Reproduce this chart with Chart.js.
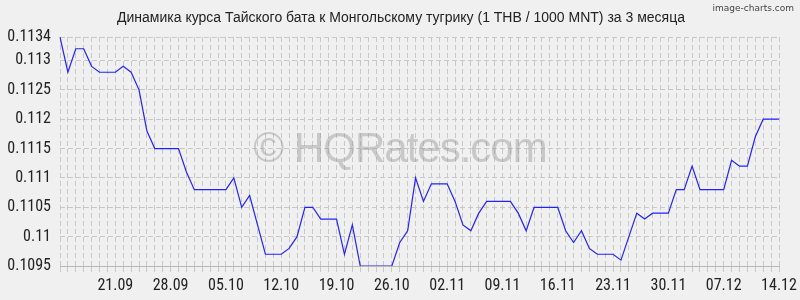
<!DOCTYPE html>
<html>
<head>
<meta charset="utf-8">
<script src="https://cdn.jsdelivr.net/npm/chart.js@4.4.0/dist/chart.umd.min.js"></script>
<style>
  html, body { margin: 0; padding: 0; background: #f0f0f0; }
  canvas { display: block; }
</style>
</head>
<body>
<canvas id="line-chart" width="800" height="300"></canvas>
<script>
// daily dates, 14.09 - 14.12
dates = [
  "14.09","15.09","16.09","17.09","18.09","19.09","20.09","21.09","22.09","23.09",
  "24.09","25.09","26.09","27.09","28.09","29.09","30.09",
  "01.10","02.10","03.10","04.10","05.10","06.10","07.10","08.10","09.10","10.10",
  "11.10","12.10","13.10","14.10","15.10","16.10","17.10","18.10","19.10","20.10",
  "21.10","22.10","23.10","24.10","25.10","26.10","27.10","28.10","29.10","30.10","31.10",
  "01.11","02.11","03.11","04.11","05.11","06.11","07.11","08.11","09.11","10.11",
  "11.11","12.11","13.11","14.11","15.11","16.11","17.11","18.11","19.11","20.11",
  "21.11","22.11","23.11","24.11","25.11","26.11","27.11","28.11","29.11","30.11",
  "01.12","02.12","03.12","04.12","05.12","06.12","07.12","08.12","09.12","10.12",
  "11.12","12.12","13.12","14.12"
];

// THB/MNT rate (1 THB / 1000 MNT)
rates = [
  0.1134, 0.1128, 0.1132, 0.1132, 0.1129, 0.1128, 0.1128, 0.1128, 0.1129, 0.1128,
  0.1125, 0.1118, 0.1115, 0.1115, 0.1115, 0.1115, 0.1111,
  0.1108, 0.1108, 0.1108, 0.1108, 0.1108, 0.1110, 0.1105, 0.1107, 0.1102, 0.1097,
  0.1097, 0.1097, 0.1098, 0.1100, 0.1105, 0.1105, 0.1103, 0.1103, 0.1103, 0.1097,
  0.1102, 0.1095, 0.1095, 0.1095, 0.1095, 0.1095, 0.1099, 0.1101, 0.1110, 0.1106, 0.1109,
  0.1109, 0.1109, 0.1106, 0.1102, 0.1101, 0.1104, 0.1106, 0.1106, 0.1106, 0.1106,
  0.1104, 0.1101, 0.1105, 0.1105, 0.1105, 0.1105, 0.1101, 0.1099, 0.1101, 0.1098,
  0.1097, 0.1097, 0.1097, 0.1096, 0.1100, 0.1104, 0.1103, 0.1104, 0.1104, 0.1104,
  0.1108, 0.1108, 0.1112, 0.1108, 0.1108, 0.1108, 0.1108, 0.1113, 0.1112, 0.1112,
  0.1117, 0.1120, 0.1120, 0.1120
];

shownDates = ["21.09","28.09","05.10","12.10","19.10","26.10","02.11","09.11","16.11","23.11","30.11","07.12","14.12"];
yTicks = [0.1095, 0.11, 0.1105, 0.111, 0.1115, 0.112, 0.1125, 0.113, 0.1134];

title = "Динамика курса Тайского бата к Монгольскому тугрику (1 THB / 1000 MNT) за 3 месяца";
narrow = '"Roboto Condensed", "Liberation Sans", sans-serif';

var overlay = {
  id: 'overlay',
  beforeDatasetsDraw: function (chart) {
    var ctx = chart.ctx;
    ctx.save();
    ctx.font = '42px "Liberation Sans", Arial, sans-serif';
    ctx.letterSpacing = '-1px';
    ctx.fillStyle = 'rgba(150,150,150,0.45)';
    ctx.textAlign = 'center';
    ctx.textBaseline = 'alphabetic';
    ctx.fillText('\u00a9 HQRates.com', 400, 162);
    ctx.restore();
  },
  afterDraw: function (chart) {
    var ctx = chart.ctx;
    ctx.save();
    // title, centered on the whole picture
    ctx.font = '14px "Liberation Sans", Arial, sans-serif';
    ctx.fillStyle = '#222';
    ctx.textAlign = 'center';
    ctx.textBaseline = 'middle';
    ctx.fillText(title, 401, 18);
    // corner mark
    ctx.font = '9px "DejaVu Sans", sans-serif';
    ctx.fillStyle = '#444';
    ctx.textAlign = 'right';
    ctx.textBaseline = 'alphabetic';
    ctx.fillText('image-charts.com', 794, 11);
    ctx.restore();
  }
};

new Chart(document.getElementById("line-chart"), {
  type: "line",
  data: {
    labels: dates,
    datasets: [{
      data: rates,
      borderColor: "#2222ff",
      borderWidth: 1.2,
      pointRadius: 0,
      tension: 0,
      fill: false
    }]
  },
  options: {
    responsive: false,
    animation: false,
    layout: { padding: { left: 0, right: 21, top: 37, bottom: 0 } },
    plugins: {
      legend: { display: false },
      tooltip: { enabled: false },
      title: { display: false }
    },
    scales: {
      x: {
        type: 'category',
        offset: false,
        grid: { color: '#c8c8c8', tickLength: 8, tickColor: '#c8c8c8', tickBorderDash: [5, 3] },
        border: { display: true, color: '#b8b8b8', dash: [5, 3] },
        ticks: {
          autoSkip: false,
          maxRotation: 0,
          padding: 2,
          color: '#222',
          font: { family: narrow, size: 16 },
          callback: function (v, i) {
            var l = dates[i];
            return shownDates.indexOf(l) >= 0 ? l : '';
          }
        },
        afterFit: function (s) { s.height = 34; }
      },
      y: {
        type: 'linear',
        min: 0.1095,
        max: 0.1134,
        afterBuildTicks: function (s) { s.ticks = yTicks.map(function (v) { return { value: v }; }); },
        afterFit: function (s) { s.width = 60; },
        grid: { color: '#c8c8c8', drawTicks: false },
        border: { display: false, dash: [5, 3] },
        ticks: {
          padding: 9,
          color: '#222',
          font: { family: narrow, size: 16 },
          callback: function (v) { return String(+v.toFixed(4)); }
        }
      }
    }
  },
  plugins: [overlay]
});
</script>
</body>
</html>
